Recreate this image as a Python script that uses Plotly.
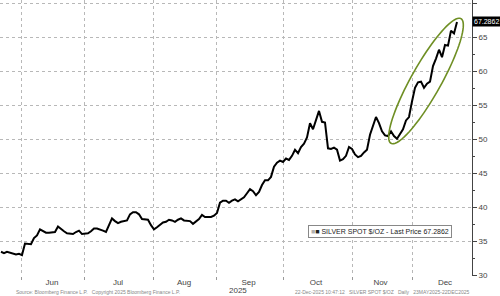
import numpy as np
import pandas as pd
import plotly.graph_objects as go

# ---- data ----
start_date = "2025-05-22"
prices = [
    33.5, 33.3, 33.5, 33.4, 33.2, 33.1, 33.2,            # May 22 - May 30
    33.0, 34.7, 34.6, 34.6, 35.5, 35.9, 36.8, 36.5, 36.3, 36.3,
    36.3, 36.4, 37.2, 36.8, 36.5, 36.2, 36.1, 36.1, 36.4, 36.6, 36.1,   # Jun
    36.1, 36.2, 36.5, 36.9, 36.9, 36.8, 36.6, 36.4, 37.3, 38.4,
    38.0, 37.7, 37.9, 38.0, 38.1, 39.0, 39.3, 39.3, 39.0, 38.3,
    38.3, 38.2, 37.4,                                       # Jul
    36.8, 37.1, 37.4, 37.8, 37.9, 38.2, 38.1, 37.9, 38.2, 38.4,
    38.1, 38.0, 38.0, 37.6, 37.9, 38.3, 38.9, 38.6, 38.6, 38.6, 38.8,  # Aug
    39.2, 40.7, 41.0, 41.0, 40.7, 41.0, 41.2, 40.9, 41.2, 41.5,
    42.1, 42.7, 42.4, 41.8, 42.3, 43.3, 44.0, 44.0, 44.5, 46.0,
    46.6, 46.9,                                             # Sep
    46.7, 47.2, 47.0, 47.6, 48.5, 48.0, 48.9, 49.4, 50.3, 52.4,
    51.5, 53.0, 54.2, 52.6, 52.5, 48.7, 48.6, 48.8, 48.5, 46.9,
    47.1, 47.6, 48.9,                                       # Oct
    48.6, 47.8, 47.4, 47.6, 48.1, 48.5, 50.7, 52.0, 53.3, 52.4,
    51.2, 50.6, 50.5, 51.2, 50.5, 50.1, 50.8, 51.5, 52.8, 53.3,   # Nov
    55.6, 57.6, 58.4, 58.5, 57.6, 58.2, 58.5, 60.8, 61.9, 63.2,
    62.1, 63.9, 63.8, 66.0, 65.6, 67.2862,                  # Dec
]
months = ["Jun", "Jul", "Aug", "Sep", "Oct", "Nov", "Dec"]
year_label = "2025"
series_name = "SILVER SPOT $/OZ"
last_price = prices[-1]
footer_left = "Source: Bloomberg Finance L.P.   Copyright 2025 Bloomberg Finance L.P."
footer_right = "22-Dec-2025 10:47:12   SILVER SPOT $/OZ   Daily   23MAY2025-22DEC2025"

dates = pd.bdate_range(start_date, periods=len(prices))
idx0 = int(np.where(dates == pd.Timestamp("2025-06-02"))[0][0])
xs = np.arange(len(prices)) - idx0   # trading-day axis, 0 = Jun 2

# month boundaries / midpoints on the trading-day axis
bounds = []
for m in range(6, 13):
    first = dates[dates >= pd.Timestamp(2025, m, 1)][0]
    bounds.append(int(np.where(dates == first)[0][0]) - idx0)
ends = bounds[1:] + [bounds[-1] + 23]
mids = [(a + b) / 2 - 0.5 for a, b in zip(bounds, ends)]

XMIN, XMAX = -7.33, 150.0
YMIN, YMAX = 29.93, 70.51

fig = go.Figure()
fig.add_trace(go.Scatter(x=xs, y=prices, mode="lines",
                         line=dict(color="#000000", width=2),
                         showlegend=False, hoverinfo="skip"))
# dummy trace on overlaid axis for month labels
fig.add_trace(go.Scatter(x=[XMIN], y=[YMIN], xaxis="x2", mode="markers",
                         marker=dict(opacity=0), showlegend=False, hoverinfo="skip"))

# ellipse highlight (pixel-space geometry converted to data units)
def px2x(p):
    return (p - 22) / 3.0
def py2y(p):
    return 30 + (275.5 - p) / 6.8
cx, cy = 426.0, 81.0
a, b = 71.5, 15.0
ux, uy = 0.489, -0.872
nx, ny = 0.872, 0.489
t = np.linspace(0, 2 * np.pi, 90)
pts = [(cx + a * np.cos(tt) * ux + b * np.sin(tt) * nx,
        cy + a * np.cos(tt) * uy + b * np.sin(tt) * ny) for tt in t]
path = "M " + " L ".join(f"{px2x(p[0]):.3f},{py2y(p[1]):.3f}" for p in pts) + " Z"
fig.add_shape(type="path", path=path, xref="x", yref="y",
              line=dict(color="#6f8f24", width=1.6), fillcolor="rgba(0,0,0,0)")

font = "Liberation Sans, Arial, sans-serif"
fig.update_layout(
    width=500, height=296,
    margin=dict(l=0, r=28, t=0, b=20),
    paper_bgcolor="white", plot_bgcolor="white",
    font=dict(family=font, size=8, color="#333333"),
    xaxis=dict(range=[XMIN, XMAX], tickvals=bounds, ticktext=[""] * len(bounds),
               showgrid=True, gridcolor="#b8b8b8", griddash="dot", gridwidth=1,
               ticks="outside", ticklen=3, tickcolor="#999999",
               showline=False, zeroline=False),
    xaxis2=dict(range=[XMIN, XMAX], overlaying="x", side="bottom",
                tickvals=mids, ticktext=months, showgrid=False, zeroline=False,
                ticks="", showline=False,
                tickfont=dict(family=font, size=8, color="#444444")),
    yaxis=dict(range=[YMIN, YMAX], side="right", tick0=30, dtick=5,
               showgrid=True, gridcolor="#b8b8b8", griddash="dot", gridwidth=1,
               showline=True, linecolor="#444444", linewidth=1,
               ticks="outside", ticklen=4, tickcolor="#444444",
               minor=dict(dtick=2.5, ticks="outside", ticklen=2, tickcolor="#444444", showgrid=False),
               zeroline=False, tickfont=dict(family=font, size=8, color="#444444")),
)

# last price tag
fig.add_annotation(xref="paper", yref="y", x=1, y=last_price, xanchor="left", xshift=0,
                   text=f"{last_price:.4f}", showarrow=False, bgcolor="#000000",
                   font=dict(family=font, size=7, color="white"), borderpad=1)
# legend box
fig.add_annotation(xref="paper", yref="paper", x=0.806, y=0.163, xanchor="center", yanchor="middle",
                   text=f"<span style='color:#b0b0b0'>■</span>■ {series_name} - Last Price {last_price:.4f}",
                   showarrow=False, bgcolor="white", bordercolor="#888888", borderwidth=1, borderpad=2,
                   font=dict(family=font, size=7, color="#222222"))
# year label
fig.add_annotation(xref="paper", yref="paper", x=238 / 472, y=-0.054, xanchor="center", yanchor="middle",
                   text=year_label, showarrow=False, font=dict(family=font, size=8, color="#444444"))
# footer (small, kept inside the page)
fig.add_annotation(xref="paper", yref="paper", x=15 / 472, y=-0.0725, xanchor="left", yanchor="bottom",
                   text=footer_left, showarrow=False, borderpad=0,
                   font=dict(family=font, size=5, color="#888888"))
fig.add_annotation(xref="paper", yref="paper", x=470 / 472, y=-0.0725, xanchor="right", yanchor="bottom",
                   text=footer_right, showarrow=False, borderpad=0,
                   font=dict(family=font, size=5, color="#888888"))

fig.write_html("out.html")
